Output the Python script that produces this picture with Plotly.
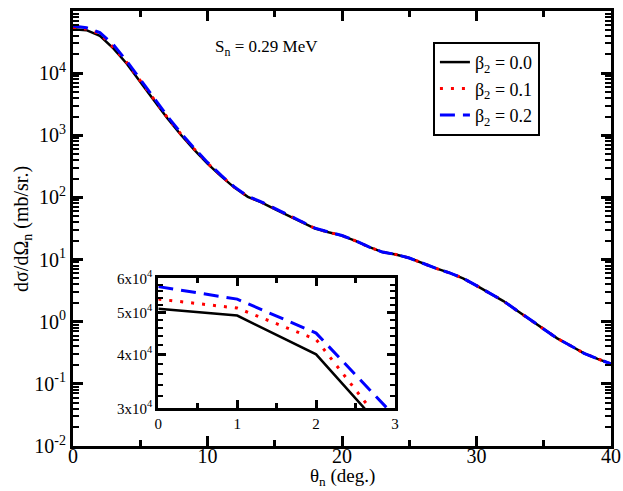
import plotly.graph_objects as go

theta = list(range(0, 41))
beta0 = [51000, 49200, 40000, 25000, 14200, 7400, 3700, 1900, 1030, 590, 350,
         220, 144, 102, 83, 65, 51, 40, 31.6, 27.5, 24.3,
         20, 16, 13.2, 12.1, 10.6, 8.7, 7.2, 6.1, 5.0, 3.8,
         2.87, 2.15, 1.51, 1.08, 0.77, 0.54, 0.41, 0.31, 0.253, 0.21]
beta1 = [53700, 51200, 43300, 26000, 14800, 7700, 3850, 1960, 1060, 605, 357,
         224, 146, 103, 84, 66, 51.5, 40.3, 31.8, 27.6, 24.3,
         20, 16, 13.2, 12.1, 10.6, 8.7, 7.2, 6.1, 5.0, 3.8,
         2.87, 2.15, 1.51, 1.08, 0.77, 0.54, 0.41, 0.31, 0.253, 0.21]
beta2 = [57400, 53700, 44800, 28700, 15600, 8100, 4050, 2050, 1100, 625, 366,
         228, 148, 104, 85, 66.5, 52, 40.5, 32, 27.7, 24.4,
         20.1, 16, 13.2, 12.1, 10.6, 8.7, 7.2, 6.1, 5.0, 3.8,
         2.88, 2.16, 1.52, 1.08, 0.77, 0.54, 0.41, 0.31, 0.253, 0.21]
names = ["β<sub>2</sub> = 0.0", "β<sub>2</sub> = 0.1", "β<sub>2</sub> = 0.2"]

y_major = [1e-2, 1e-1, 1, 10, 100, 1e3, 1e4, 1e5]
y_major_text = ["10<sup>-2</sup>", "10<sup>-1</sup>", "10<sup>0</sup>", "10<sup>1</sup>",
                "10<sup>2</sup>", "10<sup>3</sup>", "10<sup>4</sup>", "10<sup>5</sup>"]
inset_major = [3e4, 4e4, 5e4, 6e4]
inset_major_text = ["3x10<sup>4</sup>", "4x10<sup>4</sup>", "5x10<sup>4</sup>", "6x10<sup>4</sup>"]

FONT = "Liberation Serif"
styles = [dict(color="black", width=2.5, dash="solid"),
          dict(color="red", width=3, dash="3px,8px"),
          dict(color="blue", width=3, dash="15px,8px")]

fig = go.Figure()
for ys, nm, st in zip([beta0, beta1, beta2], names, styles):
    fig.add_trace(go.Scatter(x=theta, y=ys, mode="lines", name=nm, line=st,
                             xaxis="x", yaxis="y"))
for ys, st in zip([beta0, beta1, beta2], styles):
    fig.add_trace(go.Scatter(x=theta[:5], y=ys[:5], mode="lines", line=st,
                             showlegend=False, xaxis="x2", yaxis="y2", cliponaxis=True))

minor_main = [m * 10 ** e for e in range(-2, 5) for m in range(2, 10)]
minor_inset = [v * 1000 for v in range(30, 61, 2) if v % 10 != 0]

axis_common = dict(showline=True, linecolor="black", linewidth=3, mirror="allticks",
                   ticks="inside", tickcolor="black", showgrid=False, zeroline=False,
                   automargin=False)

fig.update_layout(
    width=623, height=491,
    margin=dict(l=73, r=12, t=11, b=45),
    paper_bgcolor="white", plot_bgcolor="white",
    font=dict(family=FONT, color="black", size=20),
    xaxis=dict(domain=[0, 1], range=[0, 40], tickvals=[0, 10, 20, 30, 40],
               ticklen=10, tickwidth=3, ticklabelstandoff=-10,
               minor=dict(tickvals=[5, 15, 25, 35], ticks="inside", ticklen=6,
                          tickwidth=3, tickcolor="black"),
               tickfont=dict(size=20), **axis_common),
    yaxis=dict(domain=[0, 1], type="log", range=[-2, 5], tickvals=y_major,
               ticktext=y_major_text, ticklen=10, tickwidth=3,
               minor=dict(tickvals=minor_main, ticks="inside", ticklen=6,
                          tickwidth=2, tickcolor="black"),
               tickfont=dict(size=20), **axis_common),
    xaxis2=dict(domain=[0.1586, 0.5985], anchor="y2", range=[0, 3],
                tickvals=[0, 1, 2, 3], ticklen=8, tickwidth=3,
                minor=dict(tickvals=[0.5, 1.5, 2.5], ticks="inside", ticklen=5,
                           tickwidth=3, tickcolor="black"),
                tickfont=dict(size=15), **axis_common),
    yaxis2=dict(domain=[0.0867, 0.3855], anchor="x2", type="log",
                range=[4.4771, 4.7782], tickvals=inset_major, ticktext=inset_major_text,
                ticklen=8, tickwidth=3,
                minor=dict(tickvals=minor_inset, ticks="inside", ticklen=5,
                           tickwidth=2, tickcolor="black"),
                tickfont=dict(size=15), **axis_common),
    legend=dict(x=0.669, y=0.929, xanchor="left", yanchor="top",
                bordercolor="black", borderwidth=2, bgcolor="white",
                entrywidth=120, entrywidthmode="pixels",
                font=dict(size=18, family=FONT)),
    annotations=[
        dict(text="S<sub>n</sub> = 0.29 MeV", x=0.36, y=0.945,
             xref="paper", yref="paper", showarrow=False,
             font=dict(size=17, family=FONT)),
        dict(text="θ<sub>n</sub> (deg.)", x=0.5, y=-0.1034, xref="paper", yref="paper",
             showarrow=False, yanchor="bottom", font=dict(size=19, family=FONT)),
        dict(text="dσ/dΩ<sub>n</sub> (mb/sr.)", x=-0.094, y=0.5, xref="paper",
             yref="paper", showarrow=False, textangle=-90, xanchor="center",
             font=dict(size=20, family=FONT)),
    ],
)

fig.write_html("out.html", config={"displayModeBar": False},
               post_script="document.body.style.margin='0px';")
